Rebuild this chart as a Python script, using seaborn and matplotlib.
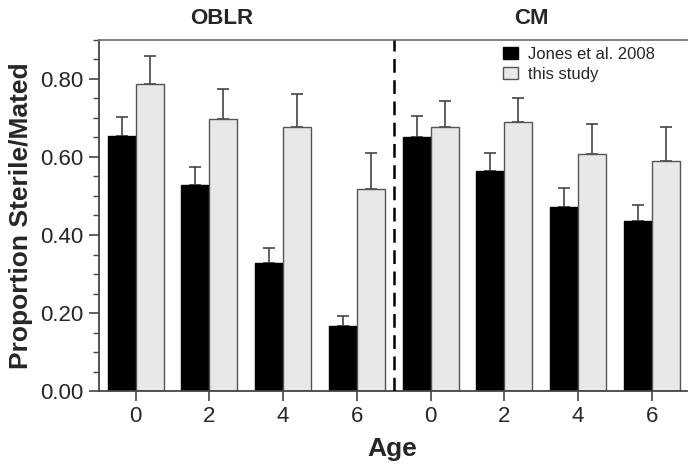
import numpy as np
import pandas as pd
import matplotlib
matplotlib.use('Agg')
import matplotlib.pyplot as plt
import seaborn as sns
from matplotlib.patches import Patch
from matplotlib.ticker import MultipleLocator, FormatStrFormatter

# Data
groups = ['OBLR', 'CM']
ages = ['0', '2', '4', '6']
studies = ['Jones et al. 2008', 'this study']

jones_mean = [0.655, 0.529, 0.329, 0.168, 0.651, 0.563, 0.473, 0.437]
jones_upper = [0.703, 0.574, 0.367, 0.193, 0.706, 0.610, 0.520, 0.478]
this_mean = [0.788, 0.698, 0.678, 0.517, 0.678, 0.689, 0.608, 0.589]
this_upper = [0.860, 0.774, 0.761, 0.609, 0.744, 0.752, 0.685, 0.677]

bar_colors = ['#000000', '#e8e8e8']
edge_colors = ['#000000', '#555555']

# Long-form table for seaborn
conds = [f'{g} {a}' for g in groups for a in ages]
df = pd.DataFrame({
    'cond': conds * 2,
    'study': [studies[0]] * len(conds) + [studies[1]] * len(conds),
    'value': jones_mean + this_mean,
})

sns.set_style('ticks')
plt.rcParams['font.family'] = ['Liberation Sans', 'DejaVu Sans']

fig = plt.figure(figsize=(6.9, 4.7), dpi=100)
ax = fig.add_axes([0.143, 0.168, 0.852, 0.747])

sns.barplot(data=df, x='cond', y='value', hue='study', order=conds,
            hue_order=studies, palette=bar_colors, width=0.76,
            errorbar=None, legend=False, ax=ax, zorder=2)

# Edges and upper-only error bars
for container, upper, ec in zip(ax.containers, [jones_upper, this_upper], edge_colors):
    for p in container:
        p.set_edgecolor(ec)
        p.set_linewidth(1.0)
    xs = np.array([p.get_x() + p.get_width() / 2 for p in container])
    hs = np.array([p.get_height() for p in container])
    up = np.array(upper) - hs
    ax.errorbar(xs, hs, yerr=[np.zeros_like(up), up], fmt='none',
                ecolor='#444444', elinewidth=1.2, capsize=4.5,
                capthick=1.2, zorder=1)

# Separator between the two groups
ax.axvline(3.5, color='black', lw=1.8, ls=(0, (5.5, 3)), zorder=3)

ax.set_xlim(-0.5, 7.47)
ax.set_ylim(0, 0.9)
ax.yaxis.set_major_locator(MultipleLocator(0.2))
ax.yaxis.set_minor_locator(MultipleLocator(0.05))
ax.yaxis.set_major_formatter(FormatStrFormatter('%.2f'))
ax.set_xticks(range(len(conds)))
ax.set_xticklabels(ages * 2)

ax.tick_params(axis='both', which='major', labelsize=16, length=7,
               width=1.2, color='#444444', pad=4)
ax.tick_params(axis='y', which='minor', length=4, width=1.0, color='#444444')

for side in ['left', 'bottom', 'top']:
    ax.spines[side].set_color('#444444')
    ax.spines[side].set_linewidth(1.3)
ax.spines['top'].set_color('#777777')
ax.spines['right'].set_visible(False)

ax.set_xlabel('Age', fontsize=19, fontweight='bold', labelpad=7)
ax.set_ylabel('Proportion Sterile/Mated', fontsize=19, fontweight='bold', labelpad=5)

# Group titles above the panel
trans = ax.get_xaxis_transform()
ax.text(1.17, 1.03, groups[0], transform=trans, ha='center', va='bottom',
        fontsize=16, fontweight='bold')
ax.text(5.37, 1.03, groups[1], transform=trans, ha='center', va='bottom',
        fontsize=16, fontweight='bold')

handles = [Patch(facecolor=c, edgecolor=e, linewidth=1.0)
           for c, e in zip(bar_colors, edge_colors)]
ax.legend(handles, studies, loc='upper left', bbox_to_anchor=(0.685, 0.985),
          frameon=False, fontsize=12, borderaxespad=0, borderpad=0.1,
          handlelength=0.9, handleheight=0.75, handletextpad=0.6,
          labelspacing=0.3)

fig.savefig('out.png', dpi=100)
